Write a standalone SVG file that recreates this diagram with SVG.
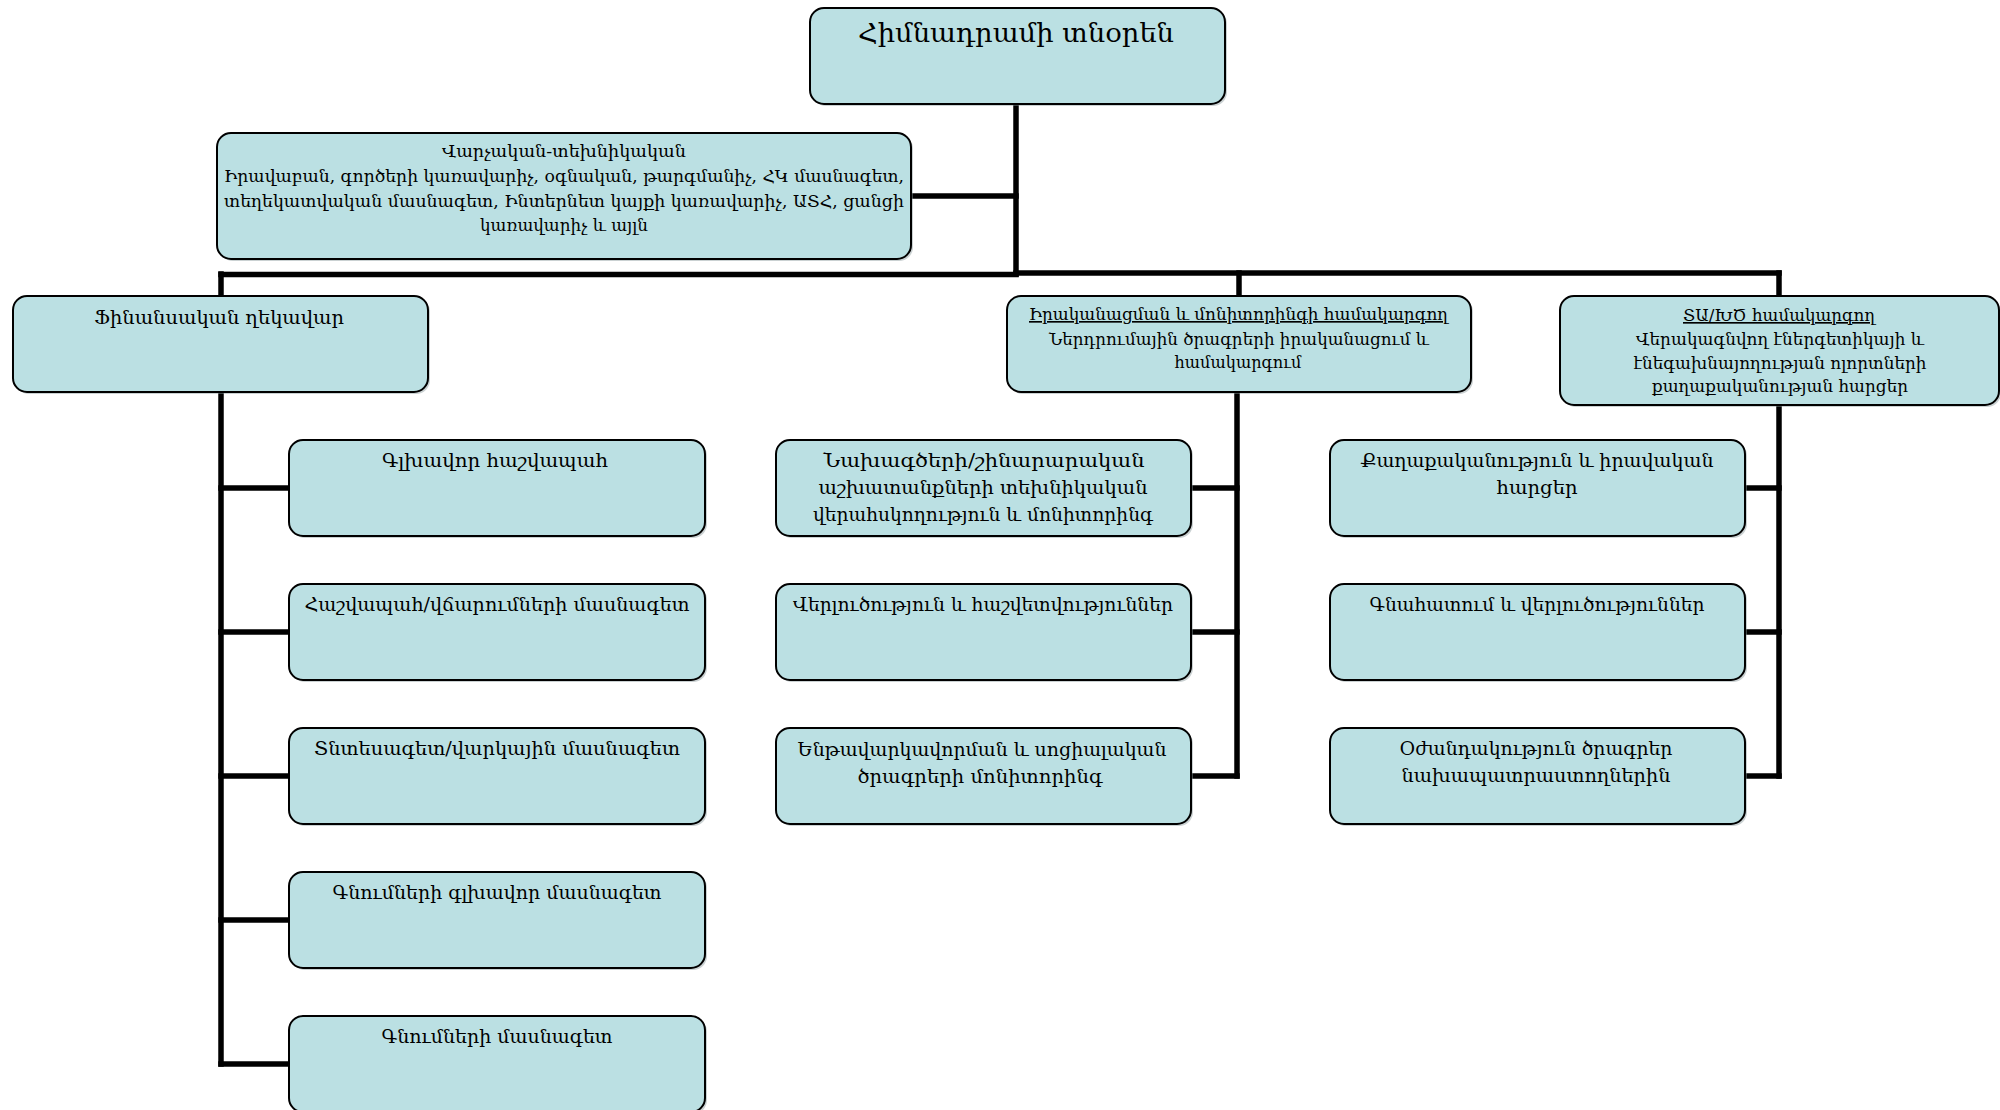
<svg xmlns="http://www.w3.org/2000/svg" width="2000" height="1110" viewBox="0 0 2000 1110">
<style>
.box{fill:#BBE0E3;stroke:#000;stroke-width:2}
.sh{fill:#8a9a9c;opacity:0.45}
.t{font-family:"DejaVu Serif","DejaVu Sans",serif;fill:#000;text-anchor:middle}
.c{font-size:19px}
.s{font-size:16.5px}
.h{font-size:26px}
.u{text-decoration:underline}
.ln{stroke:#000;stroke-width:5.5;fill:none;stroke-linecap:square}
</style>
<rect width="2000" height="1110" fill="#fff"/>
<g id="connectors">
<line class="ln" x1="1016" y1="104" x2="1016" y2="274"/>
<line class="ln" x1="911" y1="196" x2="1016" y2="196"/>
<line class="ln" x1="221" y1="274.5" x2="1016" y2="274.5"/>
<line class="ln" x1="1016" y1="273" x2="1779" y2="273"/>
<line class="ln" x1="221" y1="274" x2="221" y2="296"/>
<line class="ln" x1="1239" y1="273" x2="1239" y2="296"/>
<line class="ln" x1="1779" y1="273" x2="1779" y2="296"/>
<line class="ln" x1="221" y1="392" x2="221" y2="1064"/>
<line class="ln" x1="221" y1="488" x2="289" y2="488"/>
<line class="ln" x1="221" y1="632" x2="289" y2="632"/>
<line class="ln" x1="221" y1="776" x2="289" y2="776"/>
<line class="ln" x1="221" y1="920" x2="289" y2="920"/>
<line class="ln" x1="221" y1="1064" x2="289" y2="1064"/>
<line class="ln" x1="1237" y1="392" x2="1237" y2="776"/>
<line class="ln" x1="1191" y1="488" x2="1237" y2="488"/>
<line class="ln" x1="1191" y1="632" x2="1237" y2="632"/>
<line class="ln" x1="1191" y1="776" x2="1237" y2="776"/>
<line class="ln" x1="1779" y1="405" x2="1779" y2="776"/>
<line class="ln" x1="1745" y1="488" x2="1779" y2="488"/>
<line class="ln" x1="1745" y1="632" x2="1779" y2="632"/>
<line class="ln" x1="1745" y1="776" x2="1779" y2="776"/>
</g>
<g id="director">
<rect class="sh" x="812" y="10" width="415" height="96" rx="14"/>
<rect class="box" x="810" y="8" width="415" height="96" rx="14"/>
<text class="t h" x="1016" y="42" textLength="316" lengthAdjust="spacingAndGlyphs">Հիմնադրամի տնօրեն</text>
</g>
<g id="admin">
<rect class="sh" x="219" y="135" width="694" height="126" rx="14"/>
<rect class="box" x="217" y="133" width="694" height="126" rx="14"/>
<text class="t s" x="564" y="157" textLength="244" lengthAdjust="spacingAndGlyphs">Վարչական-տեխնիկական</text>
<text class="t s" x="564" y="182" textLength="680" lengthAdjust="spacingAndGlyphs">Իրավաբան, գործերի կառավարիչ, օգնական, թարգմանիչ, ՀԿ մասնագետ,</text>
<text class="t s" x="564" y="207" textLength="680" lengthAdjust="spacingAndGlyphs">տեղեկատվական մասնագետ, Ինտերնետ կայքի կառավարիչ, ԱՏՀ, ցանցի</text>
<text class="t s" x="564" y="231" textLength="168" lengthAdjust="spacingAndGlyphs">կառավարիչ և այլն</text>
</g>
<g id="finance">
<rect class="sh" x="15" y="298" width="415" height="96" rx="14"/>
<rect class="box" x="13" y="296" width="415" height="96" rx="14"/>
<text class="t c" x="219" y="324" textLength="250" lengthAdjust="spacingAndGlyphs">Ֆինանսական ղեկավար</text>
</g>
<g id="implementation">
<rect class="sh" x="1009" y="298" width="464" height="96" rx="14"/>
<rect class="box" x="1007" y="296" width="464" height="96" rx="14"/>
<text class="t s u" x="1238.5" y="320" textLength="419" lengthAdjust="spacingAndGlyphs">Իրականացման և մոնիտորինգի համակարգող</text>
<text class="t s" x="1239" y="345" textLength="380" lengthAdjust="spacingAndGlyphs">Ներդրումային ծրագրերի իրականացում և</text>
<text class="t s" x="1238" y="368" textLength="127" lengthAdjust="spacingAndGlyphs">համակարգում</text>
</g>
<g id="ta">
<rect class="sh" x="1562" y="298" width="439" height="109" rx="14"/>
<rect class="box" x="1560" y="296" width="439" height="109" rx="14"/>
<text class="t s u" x="1779" y="321" textLength="192" lengthAdjust="spacingAndGlyphs">ՏԱ/ԽԾ համակարգող</text>
<text class="t s" x="1780" y="345" textLength="288" lengthAdjust="spacingAndGlyphs">Վերակագնվող էներգետիկայի և</text>
<text class="t s" x="1780" y="369" textLength="293" lengthAdjust="spacingAndGlyphs">էնեգախնայողության ոլորտների</text>
<text class="t s" x="1780" y="392" textLength="256" lengthAdjust="spacingAndGlyphs">քաղաքականության հարցեր</text>
</g>
<g id="chief-accountant">
<rect class="sh" x="291" y="442" width="416" height="96" rx="14"/>
<rect class="box" x="289" y="440" width="416" height="96" rx="14"/>
<text class="t c" x="495" y="467" textLength="226" lengthAdjust="spacingAndGlyphs">Գլխավոր հաշվապահ</text>
</g>
<g id="accountant">
<rect class="sh" x="291" y="586" width="416" height="96" rx="14"/>
<rect class="box" x="289" y="584" width="416" height="96" rx="14"/>
<text class="t c" x="497" y="611" textLength="385" lengthAdjust="spacingAndGlyphs">Հաշվապահ/վճարումների մասնագետ</text>
</g>
<g id="economist">
<rect class="sh" x="291" y="730" width="416" height="96" rx="14"/>
<rect class="box" x="289" y="728" width="416" height="96" rx="14"/>
<text class="t c" x="497" y="755" textLength="366" lengthAdjust="spacingAndGlyphs">Տնտեսագետ/վարկային մասնագետ</text>
</g>
<g id="chief-procurement">
<rect class="sh" x="291" y="874" width="416" height="96" rx="14"/>
<rect class="box" x="289" y="872" width="416" height="96" rx="14"/>
<text class="t c" x="497" y="899" textLength="329" lengthAdjust="spacingAndGlyphs">Գնումների գլխավոր մասնագետ</text>
</g>
<g id="procurement">
<rect class="sh" x="291" y="1018" width="416" height="96" rx="14"/>
<rect class="box" x="289" y="1016" width="416" height="96" rx="14"/>
<text class="t c" x="497" y="1043" textLength="231" lengthAdjust="spacingAndGlyphs">Գնումների մասնագետ</text>
</g>
<g id="technical-supervision">
<rect class="sh" x="778" y="442" width="415" height="96" rx="14"/>
<rect class="box" x="776" y="440" width="415" height="96" rx="14"/>
<text class="t c" x="984" y="467" textLength="321" lengthAdjust="spacingAndGlyphs">Նախագծերի/շինարարական</text>
<text class="t c" x="983" y="494" textLength="329" lengthAdjust="spacingAndGlyphs">աշխատանքների տեխնիկական</text>
<text class="t c" x="983" y="521" textLength="340" lengthAdjust="spacingAndGlyphs">վերահսկողություն և մոնիտորինգ</text>
</g>
<g id="analysis-reporting">
<rect class="sh" x="778" y="586" width="415" height="96" rx="14"/>
<rect class="box" x="776" y="584" width="415" height="96" rx="14"/>
<text class="t c" x="983" y="611" textLength="380" lengthAdjust="spacingAndGlyphs">Վերլուծություն և հաշվետվություններ</text>
</g>
<g id="subloan-monitoring">
<rect class="sh" x="778" y="730" width="415" height="96" rx="14"/>
<rect class="box" x="776" y="728" width="415" height="96" rx="14"/>
<text class="t c" x="982" y="756" textLength="369" lengthAdjust="spacingAndGlyphs">Ենթավարկավորման և սոցիալական</text>
<text class="t c" x="980" y="783" textLength="245" lengthAdjust="spacingAndGlyphs">ծրագրերի մոնիտորինգ</text>
</g>
<g id="policy-legal">
<rect class="sh" x="1332" y="442" width="415" height="96" rx="14"/>
<rect class="box" x="1330" y="440" width="415" height="96" rx="14"/>
<text class="t c" x="1537" y="467" textLength="353" lengthAdjust="spacingAndGlyphs">Քաղաքականություն և իրավական</text>
<text class="t c" x="1537" y="494" textLength="81" lengthAdjust="spacingAndGlyphs">հարցեր</text>
</g>
<g id="evaluation">
<rect class="sh" x="1332" y="586" width="415" height="96" rx="14"/>
<rect class="box" x="1330" y="584" width="415" height="96" rx="14"/>
<text class="t c" x="1537" y="611" textLength="335" lengthAdjust="spacingAndGlyphs">Գնահատում և վերլուծություններ</text>
</g>
<g id="support">
<rect class="sh" x="1332" y="730" width="415" height="96" rx="14"/>
<rect class="box" x="1330" y="728" width="415" height="96" rx="14"/>
<text class="t c" x="1536" y="755" textLength="273" lengthAdjust="spacingAndGlyphs">Օժանդակություն ծրագրեր</text>
<text class="t c" x="1536" y="782" textLength="269" lengthAdjust="spacingAndGlyphs">նախապատրաստողներին</text>
</g>
</svg>
